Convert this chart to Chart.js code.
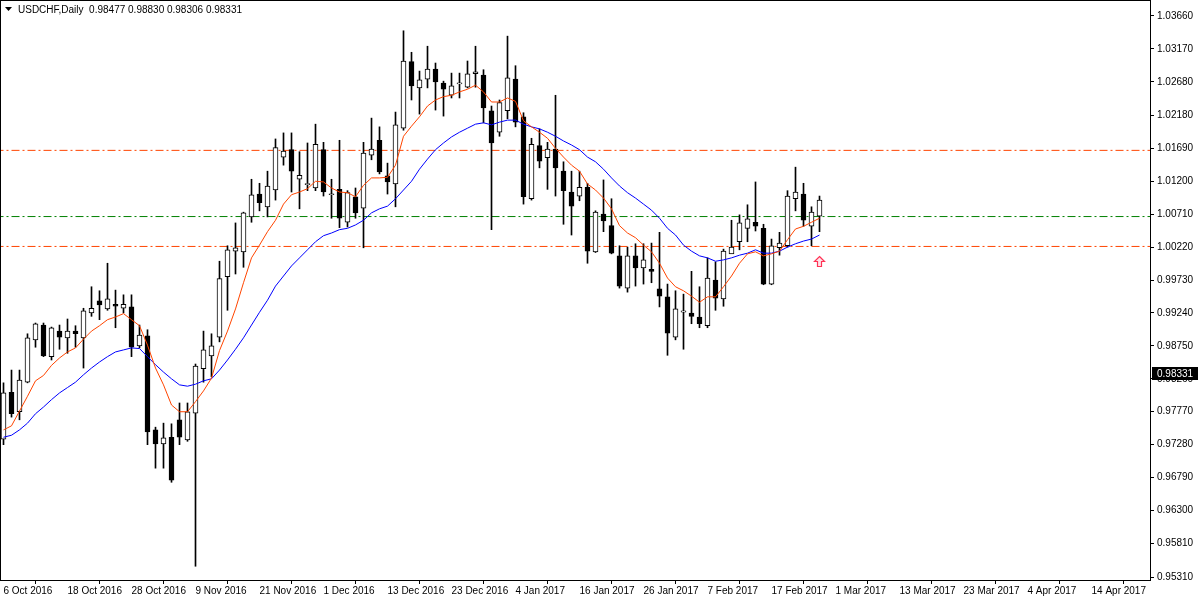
<!DOCTYPE html>
<html>
<head>
<meta charset="utf-8">
<script src="https://cdn.jsdelivr.net/npm/chart.js@4.4.1/dist/chart.umd.min.js"></script>
<style>
  html, body { margin: 0; padding: 0; background: #fff; }
  #wrap { width: 1200px; height: 600px; }
</style>
</head>
<body>
<div id="wrap"><canvas id="chart" width="1200" height="600"></canvas></div>
<script>
// USDCHF daily, one bar per trading day starting 6 Oct 2016
var opens = [0.9736,0.9806,0.9777,0.9821,0.9884,0.9906,0.9859,0.9897,0.9887,0.9897,
  0.9887,0.9924,0.9942,0.9930,0.9937,0.9931,0.9933,0.9875,0.9890,0.9750,
  0.9729,0.9739,0.9765,0.9735,0.9775,0.9841,0.9860,0.9888,0.9978,1.0016,
  1.0015,1.0067,1.0101,1.0082,1.0107,1.0156,1.0167,1.0123,1.0115,1.0110,
  1.0167,1.0100,1.0108,1.0059,1.0097,1.0080,1.0159,1.0181,1.0128,1.0116,
  1.0199,1.0298,1.0259,1.0272,1.0287,1.0266,1.0248,1.0265,1.0260,1.0280,
  1.0278,1.0225,1.0193,1.0225,1.0272,1.0216,1.0094,1.0173,1.0155,1.0168,
  1.0135,1.0104,1.0098,1.0111,1.0015,1.0071,1.0054,1.0009,0.9961,1.0009,
  0.9991,0.9989,0.9960,0.9948,0.9888,0.9925,0.9924,0.9918,0.9905,0.9973,
  0.9945,1.0012,1.0030,1.0050,1.0059,1.0050,0.9967,1.0021,1.0024,1.0094,
  1.0101,1.0053,1.0068];
var highs = [0.9820,0.9839,0.9839,0.9893,0.9909,0.9909,0.9903,0.9906,0.9915,0.9905,
  0.9931,0.9963,0.9957,0.9998,0.9958,0.9951,0.9951,0.9906,0.9899,0.9754,
  0.9760,0.9759,0.9790,0.9790,0.9848,0.9897,0.9893,1.0001,1.0024,1.0058,
  1.0074,1.0123,1.0117,1.0135,1.0183,1.0192,1.0192,1.0164,1.0177,1.0205,
  1.0178,1.0123,1.0181,1.0106,1.0110,1.0178,1.0214,1.0201,1.0147,1.0223,
  1.0344,1.0312,1.0284,1.0321,1.0296,1.0269,1.0281,1.0281,1.0299,1.0321,
  1.0286,1.0232,1.0241,1.0336,1.0292,1.0222,1.0184,1.0198,1.0178,1.0248,
  1.0149,1.0135,1.0135,1.0117,1.0076,1.0122,1.0094,1.0024,1.0022,1.0027,
  1.0027,1.0028,1.0044,0.9967,0.9957,0.9952,0.9986,0.9963,1.0006,1.0000,
  1.0019,1.0062,1.0070,1.0085,1.0119,1.0056,1.0034,1.0044,1.0106,1.0141,
  1.0117,1.0082,1.0098];
var lows = [0.9728,0.9769,0.9765,0.9820,0.9873,0.9859,0.9854,0.9870,0.9864,0.9873,
  0.9842,0.9919,0.9914,0.9928,0.9902,0.9924,0.9859,0.9872,0.9728,0.9693,
  0.9693,0.9672,0.9728,0.9733,0.9547,0.9821,0.9829,0.9881,0.9928,0.9982,
  0.9992,1.0059,1.0076,1.0067,1.0092,1.0144,1.0104,1.0079,1.0106,1.0106,
  1.0098,1.0065,1.0051,1.0052,1.0065,1.0021,1.0152,1.0131,1.0101,1.0082,
  1.0196,1.0241,1.0220,1.0259,1.0226,1.0217,1.0244,1.0244,1.0259,1.0260,
  1.0207,1.0048,1.0187,1.0213,1.0201,1.0086,1.0092,1.0140,1.0108,1.0098,
  1.0056,1.0040,1.0091,0.9998,1.0014,1.0045,1.0012,0.9961,0.9955,0.9964,
  0.9967,0.9969,0.9933,0.9861,0.9884,0.9870,0.9908,0.9902,0.9902,0.9928,
  0.9934,1.0015,1.0018,1.0030,1.0046,0.9966,0.9966,1.0010,1.0022,1.0076,
  1.0053,1.0024,1.0045];
var closes = [0.9805,0.9774,0.9824,0.9887,0.9908,0.9860,0.9902,0.9888,0.9897,0.9893,
  0.9927,0.9931,0.9936,0.9945,0.9934,0.9937,0.9873,0.9891,0.9747,0.9729,
  0.9738,0.9675,0.9739,0.9777,0.9845,0.9869,0.9875,0.9975,1.0018,1.0021,
  1.0073,1.0100,1.0088,1.0113,1.0170,1.0165,1.0135,1.0129,1.0116,1.0175,
  1.0104,1.0101,1.0065,1.0103,1.0073,1.0162,1.0168,1.0134,1.0119,1.0204,
  1.0299,1.0262,1.0271,1.0287,1.0268,1.0257,1.0262,1.0266,1.0280,1.0283,
  1.0229,1.0177,1.0237,1.0274,1.0208,1.0097,1.0175,1.0150,1.0168,1.0140,
  1.0106,1.0083,1.0111,1.0016,1.0074,1.0061,1.0013,0.9964,1.0009,0.9991,
  1.0003,0.9986,0.9949,0.9894,0.9930,0.9927,0.9919,0.9908,0.9976,0.9946,
  1.0016,1.0022,1.0058,1.0064,1.0053,0.9967,1.0024,1.0028,1.0098,1.0104,
  1.0062,1.0074,1.0092];

// moving averages as drawn on the chart
var maFast = [0.9750,0.9756,0.9778,0.9800,0.9823,0.9831,0.9846,0.9857,0.9866,0.9872,
  0.9885,0.9897,0.9905,0.9914,0.9918,0.9923,0.9914,0.9905,0.9876,0.9842,
  0.9817,0.9787,0.9777,0.9777,0.9792,0.9808,0.9827,0.9868,0.9897,0.9930,
  0.9969,1.0006,1.0025,1.0045,1.0062,1.0086,1.0100,1.0104,1.0109,1.0120,
  1.0119,1.0110,1.0104,1.0103,1.0097,1.0114,1.0125,1.0125,1.0126,1.0144,
  1.0187,1.0202,1.0216,1.0232,1.0241,1.0246,1.0248,1.0253,1.0257,1.0263,
  1.0253,1.0238,1.0238,1.0244,1.0239,1.0210,1.0201,1.0193,1.0184,1.0169,
  1.0156,1.0144,1.0135,1.0116,1.0107,1.0095,1.0079,1.0054,1.0043,1.0036,
  1.0025,1.0015,0.9998,0.9976,0.9963,0.9957,0.9949,0.9940,0.9948,0.9948,
  0.9963,0.9979,0.9998,1.0012,1.0015,1.0009,1.0012,1.0016,1.0033,1.0049,
  1.0053,1.0059,1.0065];
var maSlow = [0.9739,0.9742,0.9750,0.9760,0.9774,0.9784,0.9795,0.9805,0.9813,0.9821,
  0.9832,0.9842,0.9851,0.9859,0.9866,0.9869,0.9872,0.9871,0.9859,0.9847,
  0.9836,0.9826,0.9817,0.9815,0.9818,0.9823,0.9826,0.9839,0.9854,0.9870,
  0.9887,0.9906,0.9925,0.9943,0.9964,0.9979,0.9994,1.0006,1.0018,1.0030,
  1.0039,1.0043,1.0048,1.0050,1.0055,1.0062,1.0073,1.0079,1.0083,1.0094,
  1.0107,1.0120,1.0138,1.0153,1.0167,1.0177,1.0186,1.0193,1.0199,1.0205,
  1.0207,1.0204,1.0208,1.0211,1.0211,1.0205,1.0201,1.0198,1.0193,1.0187,
  1.0180,1.0174,1.0167,1.0156,1.0149,1.0138,1.0125,1.0113,1.0103,1.0095,
  1.0086,1.0077,1.0065,1.0050,1.0040,1.0025,1.0016,1.0009,1.0006,1.0001,
  1.0003,1.0006,1.0010,1.0013,1.0018,1.0013,1.0013,1.0016,1.0022,1.0027,
  1.0031,1.0034,1.0040];

// horizontal levels
var levelPrices = [1.0166, 1.00675, 1.0023];
var levelColors = ['#ff4500', '#008000', '#ff4500'];

// axis ticks
var yTickValues = [1.03660,1.03170,1.02680,1.02180,1.01690,1.01200,1.00710,1.00220,0.99730,
  0.99240,0.98750,0.98260,0.97770,0.97280,0.96790,0.96300,0.95810,0.95310];
var xTickIdx = [0,8,16,24,32,40,48,56,64,72,80,88,96,104,112,120,128,136];
var xTickLabels = ['6 Oct 2016','18 Oct 2016','28 Oct 2016','9 Nov 2016','21 Nov 2016','1 Dec 2016',
  '13 Dec 2016','23 Dec 2016','4 Jan 2017','16 Jan 2017','26 Jan 2017','7 Feb 2017','17 Feb 2017',
  '1 Mar 2017','13 Mar 2017','23 Mar 2017','4 Apr 2017','14 Apr 2017'];

var titleText = 'USDCHF,Daily  0.98477 0.98830 0.98306 0.98331';
var currentPrice = 0.98331;
var arrowBars = [102];
var arrowPrices = [1.0009];

var FONT = 'Liberation Sans';

var wickData = [], bodyData = [], bodyColors = [];
for (var i = 0; i < opens.length; i++) {
	wickData.push({x: i, y: [lows[i], highs[i]]});
	bodyData.push({x: i, y: [opens[i], closes[i]]});
	bodyColors.push(closes[i] >= opens[i] ? '#ffffff' : '#000000');
}
function toPoints(arr){
	return arr.map(function(v, i){ return {x: i, y: v}; });
}

var datasets = [];
levelPrices.forEach(function(p, k){
	datasets.push({
		type: 'line',
		data: [{x: -1, y: p}, {x: 150, y: p}],
		borderColor: levelColors[k],
		borderWidth: 1,
		borderDash: [8, 3, 2, 3],
		pointRadius: 0,
		order: 5
	});
});
datasets.push({
	type: 'bar',
	data: wickData,
	backgroundColor: '#000',
	barThickness: 1,
	grouped: false,
	order: 3
});
datasets.push({
	type: 'bar',
	data: bodyData,
	backgroundColor: bodyColors,
	borderColor: '#000',
	borderWidth: 1,
	borderSkipped: false,
	barThickness: 5,
	minBarLength: 1,
	grouped: false,
	order: 2
});
datasets.push({
	type: 'line',
	data: toPoints(maSlow),
	borderColor: '#0000ff',
	borderWidth: 1,
	pointRadius: 0,
	tension: 0,
	order: 1
});
datasets.push({
	type: 'line',
	data: toPoints(maFast),
	borderColor: '#ff4500',
	borderWidth: 1,
	pointRadius: 0,
	tension: 0,
	order: 0
});

var mtPlugin = {
	id: 'mt',
	beforeDraw: function(chart){
		var c = chart.ctx;
		c.save();
		c.fillStyle = '#fff';
		c.fillRect(0, 0, chart.width, chart.height);
		c.restore();
	},
	afterDraw: function(chart){
		var c = chart.ctx, a = chart.chartArea;
		var xs = chart.scales.x, ys = chart.scales.y;
		c.save();
		// frame
		c.strokeStyle = '#000';
		c.lineWidth = 1;
		c.strokeRect(Math.round(a.left) - 0.5, Math.round(a.top) - 0.5, Math.round(a.right - a.left) + 1, Math.round(a.bottom - a.top) + 1);
		// arrows
		c.strokeStyle = '#ff3355';
		c.fillStyle = '#ffe4ea';
		c.lineWidth = 1.2;
		for (var k = 0; k < arrowBars.length; k++) {
			var ax = Math.round(xs.getPixelForValue(arrowBars[k])) - 0.5;
			var ay = Math.round(ys.getPixelForValue(arrowPrices[k])) + 0.5;
			c.beginPath();
			c.moveTo(ax, ay);
			c.lineTo(ax + 5, ay + 5);
			c.lineTo(ax + 2, ay + 5);
			c.lineTo(ax + 2, ay + 10);
			c.lineTo(ax - 2, ay + 10);
			c.lineTo(ax - 2, ay + 5);
			c.lineTo(ax - 5, ay + 5);
			c.closePath();
			c.fill();
			c.stroke();
		}
		// current price box
		var py = Math.round(ys.getPixelForValue(currentPrice));
		c.fillStyle = '#000';
		c.fillRect(a.right + 2, py - 7, 46, 13);
		c.fillStyle = '#fff';
		c.font = '10px "' + FONT + '"';
		c.textBaseline = 'middle';
		c.textAlign = 'left';
		c.fillText(currentPrice.toFixed(5), a.right + 7, py);
		// title
		c.fillStyle = '#000';
		c.beginPath();
		c.moveTo(5, 7); c.lineTo(12, 7); c.lineTo(8.5, 11);
		c.closePath();
		c.fill();
		c.font = '10px "' + FONT + '"';
		c.fillText(titleText, 18, 10);
		c.restore();
	}
};

new Chart(document.getElementById('chart').getContext('2d'), {
	data: { datasets: datasets },
	options: {
		responsive: false,
		animation: false,
		devicePixelRatio: 1,
		events: [],
		layout: { padding: { left: 1, top: 1, right: 0, bottom: 0 } },
		plugins: { legend: { display: false }, tooltip: { enabled: false } },
		scales: {
			x: {
				type: 'linear',
				min: -0.3125,
				max: 143.3125,
				offset: false,
				afterBuildTicks: function(s){ s.ticks = xTickIdx.map(function(v){ return {value: v}; }); },
				afterFit: function(s){ s.height = 20; s.paddingLeft = 0; s.paddingRight = 0; },
				ticks: {
					autoSkip: false,
					maxRotation: 0,
					align: 'start',
					padding: 1,
					color: '#000',
					font: { family: FONT, size: 10 },
					callback: function(v, idx){ return xTickLabels[idx]; }
				},
				grid: { drawOnChartArea: false, tickLength: 4, color: '#000' },
				border: { display: false }
			},
			y: {
				type: 'linear',
				position: 'right',
				min: 0.9526535,
				max: 1.0388326,
				afterBuildTicks: function(s){ s.ticks = yTickValues.map(function(v){ return {value: v}; }); },
				afterFit: function(s){ s.width = 50; s.paddingTop = 0; s.paddingBottom = 0; },
				ticks: {
					padding: 3,
					color: '#000',
					font: { family: FONT, size: 10 },
					callback: function(v){ return v.toFixed(5); }
				},
				grid: { drawOnChartArea: false, tickLength: 4, color: '#000' },
				border: { display: false }
			}
		}
	},
	plugins: [mtPlugin]
});
</script>
</body>
</html>
